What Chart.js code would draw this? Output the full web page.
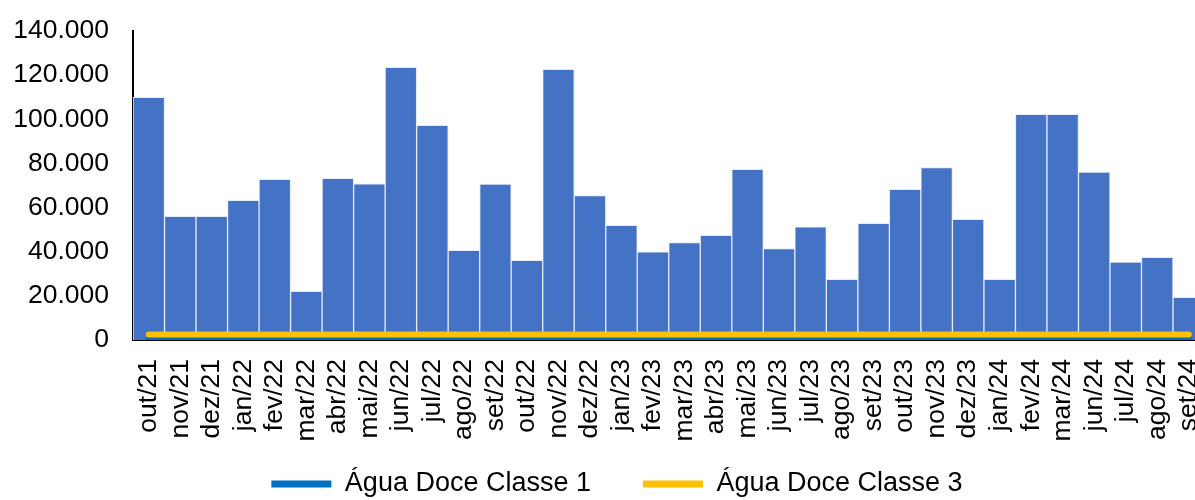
<!DOCTYPE html>
<html>
<head>
<meta charset="utf-8">
<script src="https://cdn.jsdelivr.net/npm/chart.js@4/dist/chart.umd.min.js"></script>
<style>
  html, body { margin: 0; padding: 0; background: #fff; overflow: hidden; }
  #wrap { width: 1195px; height: 500px; overflow: hidden; position: relative; }
  canvas { position: absolute; left: 0; top: 0; }
</style>
</head>
<body>
<div id="wrap"><canvas id="c" width="1240" height="500"></canvas></div>
<script>
const categories = ['out/21','nov/21','dez/21','jan/22','fev/22','mar/22','abr/22','mai/22','jun/22','jul/22','ago/22','set/22','out/22','nov/22','dez/22','jan/23','fev/23','mar/23','abr/23','mai/23','jun/23','jul/23','ago/23','set/23','out/23','nov/23','dez/23','jan/24','fev/24','mar/24','jun/24','jul/24','ago/24','set/24'];
const barValues = [110000,56000,56000,63300,72800,22000,73200,70800,123500,97300,40600,70700,36100,122600,65400,52000,40000,44100,47400,77300,41400,51300,27500,52900,68300,78100,54700,27500,102200,102200,76100,35300,37500,19300];
const classe1Value = 200;
const classe3Value = 2500;
const classe1 = categories.map(() => classe1Value);
const classe3 = categories.map(() => classe3Value);
const yTicks = [0,20000,40000,60000,80000,100000,120000,140000];
const seriesNames = ['Água Doce Classe 1','Água Doce Classe 3'];

function fmt(v) { return String(v).replace(/\B(?=(\d{3})+(?!\d))/g, '.'); }

const FONT = "'Liberation Sans', Arial, sans-serif";

// place the legend row where the reference has it
const legendPlacer = {
  id: 'legendPlacer',
  afterLayout(chart) {
    const lg = chart.legend;
    if (!lg) return;
    const pad = lg.options.labels.padding;
    const targetTextCenter = 484;
    const itemH = 27;
    lg.top = targetTextCenter - itemH / 2 - pad;
    lg.bottom = chart.height;
    lg.height = lg.bottom - lg.top;
    const shift = 617 - (lg.left + lg.right) / 2;
    lg.left += shift;
    lg.right += shift;
  }
};

new Chart(document.getElementById('c'), {
  data: {
    labels: categories,
    datasets: [
      { type: 'bar', label: '', data: barValues, backgroundColor: '#4472C4', borderColor: '#E4EAF6', borderWidth: 1, barPercentage: 1, categoryPercentage: 1, order: 3 },
      { type: 'line', label: seriesNames[0], data: classe1, borderColor: '#0070C0', backgroundColor: '#0070C0', borderWidth: 6, borderCapStyle: 'round', pointRadius: 0, fill: false, order: 2 },
      { type: 'line', label: seriesNames[1], data: classe3, borderColor: '#FFC000', backgroundColor: '#FFC000', borderWidth: 6, borderCapStyle: 'round', pointRadius: 0, fill: false, order: 1 }
    ]
  },
  plugins: [legendPlacer],
  options: {
    responsive: false,
    animation: false,
    devicePixelRatio: 1,
    layout: { padding: { left: 12, right: 29, top: 0, bottom: 0 } },
    plugins: {
      tooltip: { enabled: false },
      legend: {
        position: 'bottom',
        maxHeight: 41.5,
        labels: {
          font: { family: FONT, size: 27 },
          color: '#000',
          boxWidth: 60,
          boxHeight: 7,
          padding: 52,
          useBorderRadius: true,
          borderRadius: 3.5,
          filter: (item) => item.text !== '',
          sort: (a, b) => a.datasetIndex - b.datasetIndex,
          generateLabels: (chart) => chart.data.datasets.map((ds, i) => ({
            text: ds.label, fillStyle: ds.borderColor, strokeStyle: ds.borderColor, lineWidth: 0, hidden: false, datasetIndex: i
          }))
        }
      }
    },
    scales: {
      x: {
        offset: true,
        grid: { display: false, drawTicks: false },
        border: { display: true, color: '#000', width: 2 },
        ticks: { autoSkip: false, minRotation: 90, maxRotation: 90, padding: 19, color: '#000', font: { family: FONT, size: 26.5 } },
        afterFit: (scale) => { scale.height = 118.5; }
      },
      y: {
        z: 1,
        min: 0,
        max: 140000,
        grid: { display: false, drawTicks: false },
        border: { display: true, color: '#000', width: 2 },
        afterBuildTicks: (scale) => { scale.ticks = yTicks.map(v => ({ value: v })); },
        ticks: { padding: 24, color: '#000', font: { family: FONT, size: 26.5 }, callback: (v) => fmt(v) },
        afterFit: (scale) => { scale.width = 121; scale.paddingTop = 31; }
      }
    }
  }
});
</script>
</body>
</html>
